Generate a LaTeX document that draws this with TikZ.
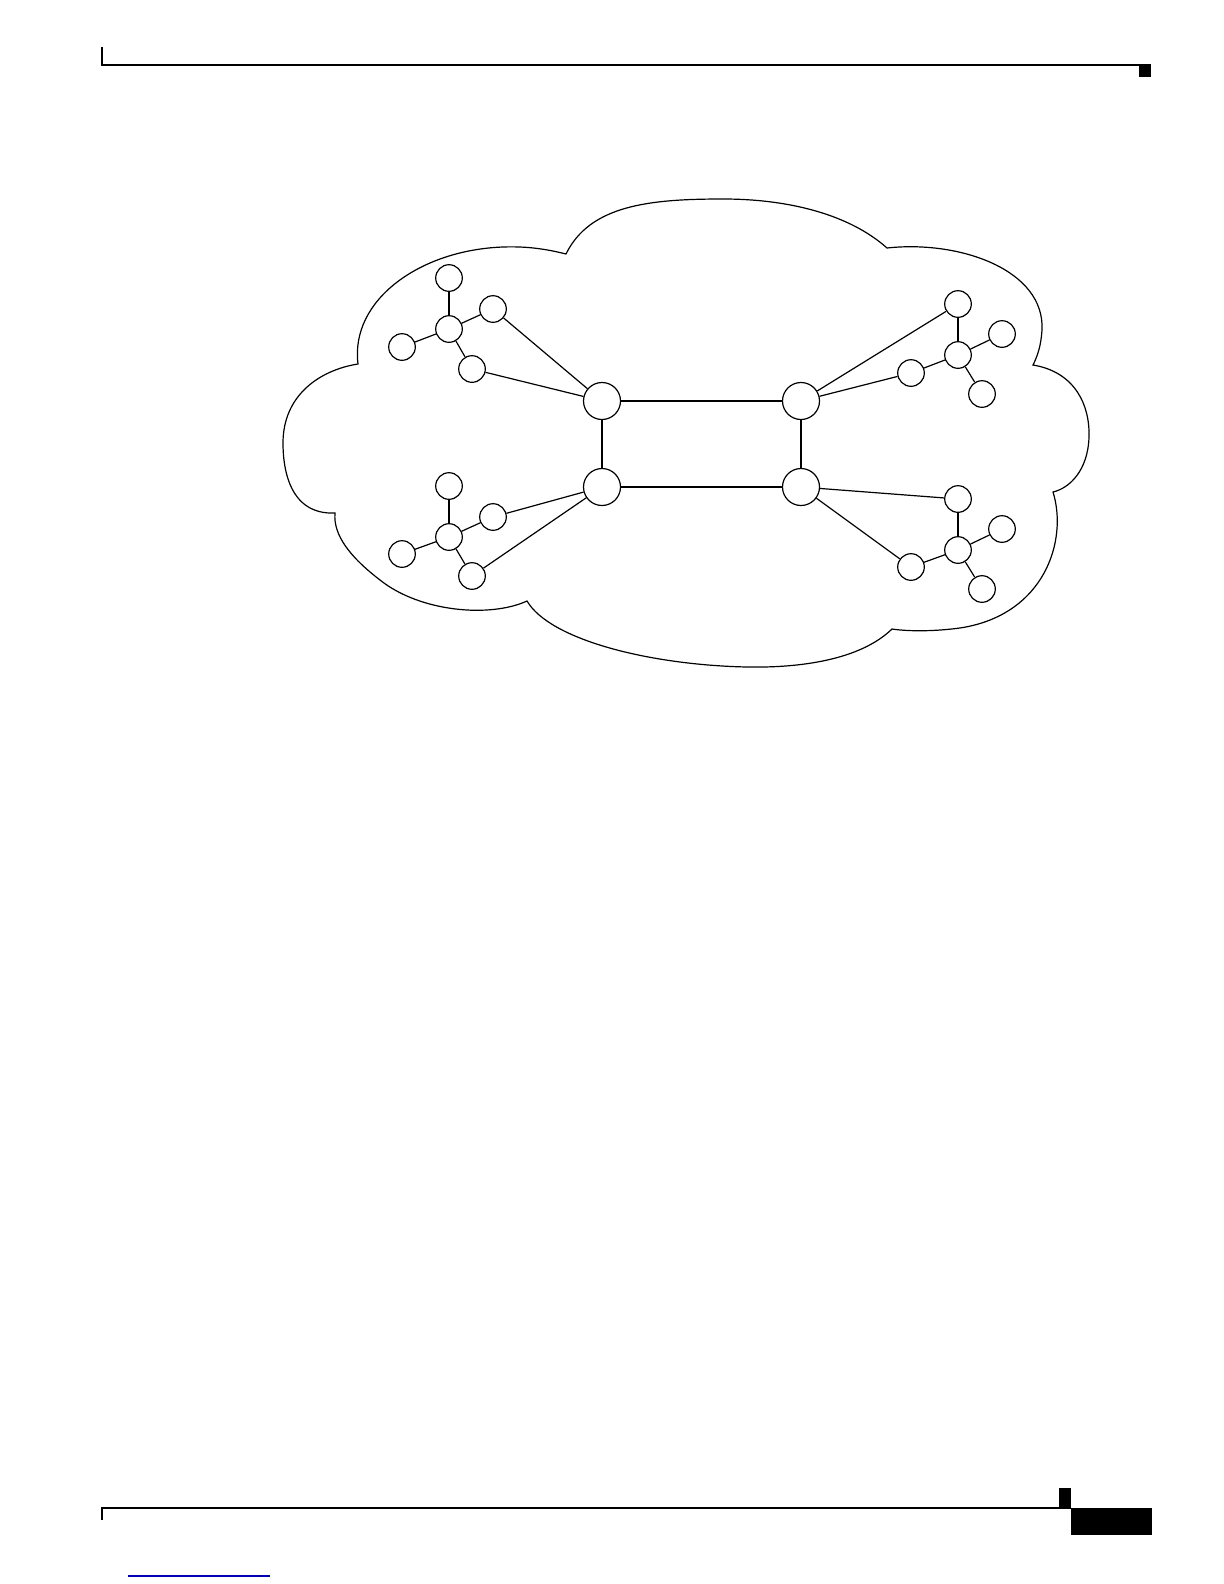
\documentclass[tikz,border=0pt]{standalone}
\usetikzlibrary{calc}
\begin{document}
\begin{tikzpicture}[x=0.5bp,y=-0.5bp,line width=0.6bp,
	host/.style={circle,draw,inner sep=0pt,minimum size=13.3bp},
	router/.style={circle,draw,inner sep=0pt,minimum size=18.5bp}]
		\useasboundingbox (0,0) rectangle (1224,1584);
		
		%page header
		\draw[line width=0.8bp] (102,47) -- (102,65) -- (1151,65);
		\fill (1139,65) rectangle (1151,77);
		%page footer
		\draw[line width=0.8bp] (102,1520) -- (102,1508) -- (1071,1508);
		\fill (1059,1488) rectangle (1071,1508);
		\fill (1071,1508) rectangle (1152,1535);
		\draw[line width=0.6bp,color=blue!70!black] (128,1576) -- (270,1576);
		
		%cloud
		\draw (566,254) .. controls (590,205) and (650,199) .. (723,199)
			.. controls (790,199) and (850,215) .. (887,248)
			.. controls (960,240) and (1045,270) .. (1042,330)
			.. controls (1041,345) and (1038,355) .. (1033,365)
			.. controls (1075,372) and (1090,405) .. (1089,437)
			.. controls (1088,470) and (1070,488) .. (1053,492)
			.. controls (1068,540) and (1045,615) .. (960,628)
			.. controls (930,632) and (905,631) .. (892,629)
			.. controls (860,660) and (800,668) .. (747,667)
			.. controls (650,665) and (550,640) .. (527,601)
			.. controls (490,618) and (420,612) .. (380,580)
			.. controls (350,557) and (333,535) .. (335,513)
			.. controls (290,515) and (283,470) .. (283,443)
			.. controls (283,395) and (320,370) .. (358,364)
			.. controls (350,300) and (420,250) .. (503,247)
			.. controls (530,246) and (550,250) .. cycle;
		
		%core routers
		\node[router] (rtl) at (602,401) {};
		\node[router] (rtr) at (801,401) {};
		\node[router] (rbl) at (602,487) {};
		\node[router] (rbr) at (801,487) {};
		%top left hosts
		\node[host] (tlhub) at (449,329) {};
		\node[host] (tltop) at (449,278) {};
		\node[host] (tlright) at (493,309) {};
		\node[host] (tlleft) at (402,347) {};
		\node[host] (tllow) at (472,369) {};
		%bottom left hosts
		\node[host] (blhub) at (449,537) {};
		\node[host] (bltop) at (449,486) {};
		\node[host] (blright) at (493,517) {};
		\node[host] (blleft) at (402,554) {};
		\node[host] (bllow) at (472,576) {};
		%top right hosts
		\node[host] (trhub) at (958,355) {};
		\node[host] (trtop) at (958,304) {};
		\node[host] (trright) at (1002,334) {};
		\node[host] (trleft) at (911,373) {};
		\node[host] (trlow) at (982,394) {};
		%bottom right hosts
		\node[host] (brhub) at (958,550) {};
		\node[host] (brtop) at (958,499) {};
		\node[host] (brright) at (1002,529) {};
		\node[host] (brleft) at (911,567) {};
		\node[host] (brlow) at (982,589) {};
		
		%links
		\draw (rtl) -- (rtr) -- (rbr) -- (rbl) -- (rtl);
		\foreach \g in {tl,bl,tr,br}{
			\draw (\g hub) -- (\g top);
			\draw (\g hub) -- (\g right);
			\draw (\g hub) -- (\g left);
			\draw (\g hub) -- (\g low);
		}
		\draw (tlright) -- (rtl);
		\draw (tllow) -- (rtl);
		\draw (blright) -- (rbl);
		\draw (bllow) -- (rbl);
		\draw (trtop) -- (rtr);
		\draw (trleft) -- (rtr);
		\draw (brtop) -- (rbr);
		\draw (brleft) -- (rbr);
		\end{tikzpicture}
\end{document}
